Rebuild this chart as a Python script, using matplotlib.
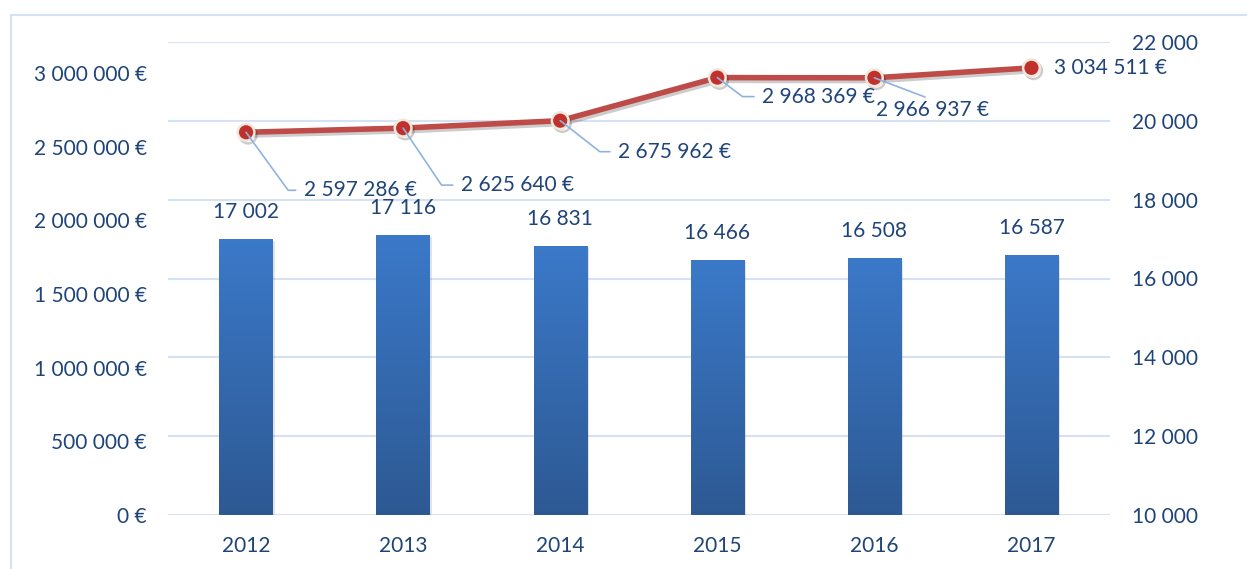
import numpy as np
import matplotlib.pyplot as plt
import matplotlib.patheffects as pe
from matplotlib.patches import Rectangle

years = ["2012", "2013", "2014", "2015", "2016", "2017"]
headcount = [17002, 17116, 16831, 16466, 16508, 16587]
amounts = [2597286, 2625640, 2675962, 2968369, 2966937, 3034511]

# label offsets (pixels) and leader angles for the line labels
lbl_offsets = [(58, -58), (58, -57), (58, -31), (45, -19), (58, -32), (23, 0)]
lbl_angles = [-54, -56, -38, -37, None, None]

text_col = "#1f4478"
grid_col = "#d5e2f3"
plt.rcParams["font.family"] = ["Lato", "DejaVu Sans"]


def fmt_space(v):
    return f"{int(v):,}".replace(",", " ")


fig = plt.figure(figsize=(12.47, 5.69), dpi=100)
fig.patches.append(Rectangle((11 / 1247, -0.1), 1.2, 1.1 - 15 / 569,
                             transform=fig.transFigure, fill=False,
                             edgecolor=grid_col, linewidth=1.5))

ax2 = fig.add_axes([167.5 / 1247, (569 - 515) / 569, (1110 - 167.5) / 1247, (515 - 42) / 569])
ax = ax2.twinx()
ax2.yaxis.tick_right()
ax.yaxis.tick_left()
ax.set_zorder(ax2.get_zorder() + 1)
ax.patch.set_visible(False)

x = np.arange(len(years))

# bars with vertical gradient
ax2.set_yticks(range(10000, 22001, 2000))
ax2.set_yticklabels([fmt_space(v) for v in range(10000, 22001, 2000)])
ax2.grid(axis="y", color=grid_col, linewidth=1.5)
ax2.set_axisbelow(True)
bars = ax2.bar(x, headcount, width=0.34, color="#3570b5", zorder=2,
               path_effects=[pe.SimplePatchShadow(offset=(1.5, -1.5), alpha=0.12), pe.Normal()])
grad = np.linspace(0, 1, 256).reshape(-1, 1)
cmap = plt.matplotlib.colors.LinearSegmentedColormap.from_list("g", ["#2d5993", "#3b79c9"])
for b in bars:
    x0, w, h = b.get_x(), b.get_width(), b.get_height()
    im = ax2.imshow(grad, extent=(x0, x0 + w, 10000, h), origin="lower", cmap=cmap,
                    aspect="auto", zorder=3)
    im.set_clip_path(b)
ax2.set_xlim(-0.5, len(years) - 0.5)
ax2.set_ylim(10000, 22000)
for xi, v in zip(x, headcount):
    ax2.annotate(fmt_space(v), (xi, v), xytext=(0, 27), textcoords="offset pixels",
                 ha="center", va="center", fontsize=15, color=text_col, zorder=5)

# line
ax.set_ylim(0, 3210000)
ax.set_yticks(range(0, 3000001, 500000))
ax.set_yticklabels([fmt_space(v) + " €" for v in range(0, 3000001, 500000)])
ax.plot(x, amounts, color="#be4b48", linewidth=4, marker="o", markersize=12,
        markerfacecolor="#c0302c", markeredgecolor="#f1e7da", markeredgewidth=1.8,
        solid_capstyle="round", zorder=4,
        path_effects=[pe.SimpleLineShadow(offset=(1.5, -2), alpha=0.2), pe.Normal()])
for xi, v, off, ang in zip(x, amounts, lbl_offsets, lbl_angles):
    kw = {}
    if ang is not None:
        kw["arrowprops"] = dict(arrowstyle="-", color="#8fb3e0", linewidth=1.2,
                                shrinkA=4, shrinkB=0,
                                connectionstyle=f"angle,angleA=0,angleB={ang},rad=0")
    elif off[1] != 0:
        kw["arrowprops"] = dict(arrowstyle="-", color="#8fb3e0", linewidth=1.2,
                                shrinkA=0, shrinkB=0, relpos=(0.5, 1.0))
    ha = "center" if (ang is None and off[1] != 0) else "left"
    ax.annotate(fmt_space(v) + " €", (xi, v), xytext=off, textcoords="offset pixels",
                ha=ha, va="center", fontsize=15, color=text_col, zorder=6, **kw)

for a in (ax, ax2):
    for s in a.spines.values():
        s.set_visible(False)
    a.tick_params(length=0, labelsize=15, labelcolor=text_col)
ax2.set_xticks(x)
ax2.set_xticklabels(years)
ax2.tick_params(axis="x", pad=15)
ax2.tick_params(axis="y", pad=16)
ax.tick_params(axis="y", pad=15)

fig.savefig("out.png", dpi=100)
